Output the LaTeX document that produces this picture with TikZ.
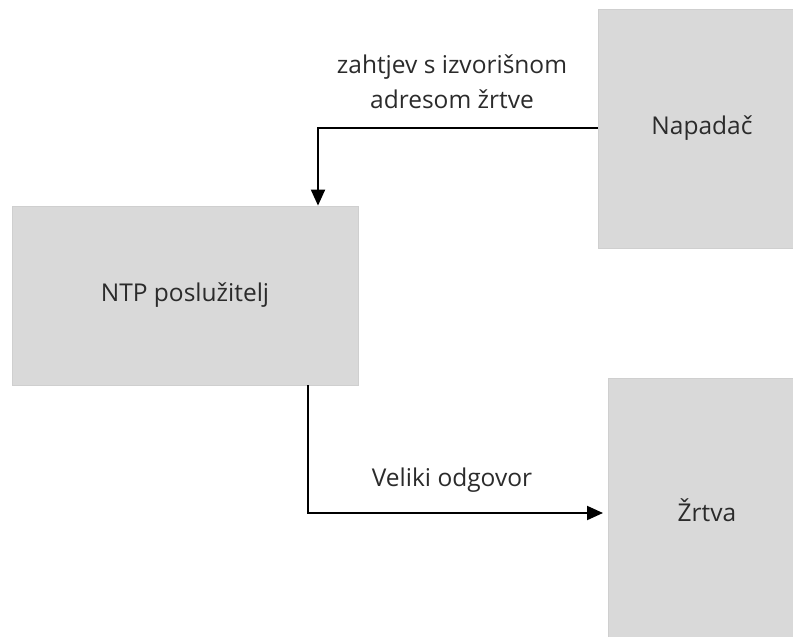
\documentclass[tikz,border=0pt]{standalone}
\usepackage{fontspec}
\setmainfont{Open Sans}
\usetikzlibrary{arrows.meta}
\definecolor{boxfill}{HTML}{D9D9D9}
\definecolor{boxline}{HTML}{CFCFCF}
\definecolor{txt}{HTML}{2B2B2B}
\begin{document}
\begin{tikzpicture}[x=1pt,y=-1pt,
  box/.style={draw=boxline,fill=boxfill,line width=0.8pt,inner sep=0pt,text=txt,font=\fontsize{24.5}{29}\selectfont},
  conn/.style={line width=2pt,-{Triangle[length=16pt,width=14pt]}},
  lbl/.style={text=txt,font=\fontsize{24.5}{35}\selectfont,align=center,inner sep=0pt}]
\useasboundingbox (0,0) rectangle (793,637);
\begin{scope}
\clip (0,0) rectangle (793,637);
\node[box,minimum width=208pt,minimum height=239pt] (nap) at (702,128.5) {Napadač};
\node[box,minimum width=346pt,minimum height=179pt] (ntp) at (185,295.5) {NTP poslužitelj};
\node[box,minimum width=198pt,minimum height=264pt] (zrt) at (707,510) {Žrtva};
\end{scope}
\coordinate (c1) at (318,128);
\coordinate (c2) at (308,513);
\coordinate (t2) at (603,513);
\draw[conn] (nap.west |- c1) -| (ntp.north -| c1);
\draw[conn] (ntp.south -| c2) |- (t2);
\node[lbl] (l1) at (452,82) {zahtjev s izvorišnom\\adresom žrtve};
\node[lbl] (l2) at (452,480) {Veliki odgovor};
\end{tikzpicture}
\end{document}
